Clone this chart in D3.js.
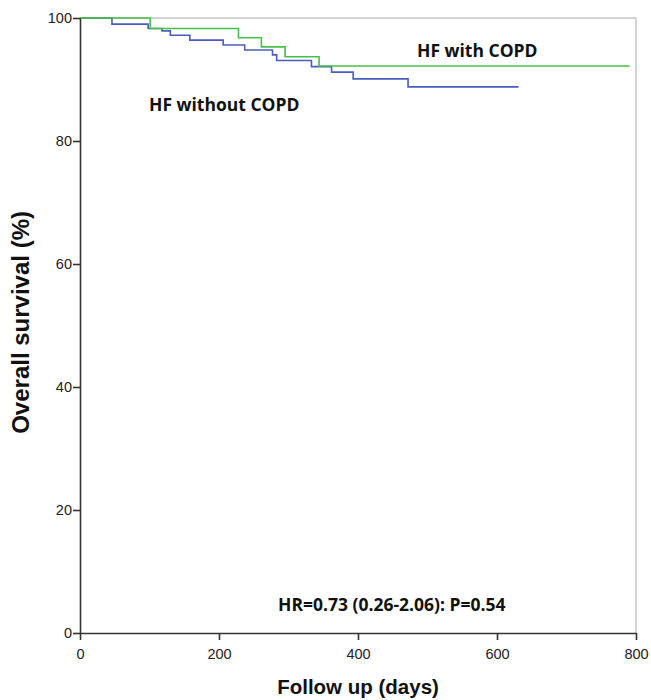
<!DOCTYPE html>
<html>
<head>
<meta charset="utf-8">
<script src="https://cdn.jsdelivr.net/npm/d3@7"></script>
<style>
  body { margin: 0; background: #fff; }
  .tick text { font-family: "Liberation Sans Narrow", "Liberation Sans", Arial, sans-serif; font-size: 14.5px; fill: #222; }
  .lbl { font-family: "Liberation Sans", Arial, sans-serif; font-weight: bold; fill: #111; }
  .ann { font-family: "Open Sans", Lato, sans-serif; font-weight: bold; font-size: 17.5px; fill: #111; }
</style>
</head>
<body>
<div id="chart"></div>
<script>
// step data: [day, survival %]
var withCopd = [[0, 100], [101, 98.3], [228, 96.8], [261, 95.3], [295, 93.7], [344, 92.2]];
var withCopdEnd = 791;
var withoutCopd = [[0, 100], [46, 99.0], [98, 98.3], [118, 97.9], [130, 97.2], [158, 96.4],
  [206, 95.6], [237, 94.8], [277, 94.0], [283, 93.1], [333, 92.1], [362, 91.2],
  [393, 90.1], [472, 88.8]];
var withoutCopdEnd = 631;
var xTicks = [0, 200, 400, 600, 800];
var yTicks = [0, 20, 40, 60, 80, 100];

var margin = {top: 18, right: 15, bottom: 67, left: 80},
    width = 651 - margin.left - margin.right,
    height = 700 - margin.top - margin.bottom;

var svg = d3.select("#chart")
  .append("svg")
    .attr("width", 651)
    .attr("height", 700)
  .append("g")
    .attr("transform", "translate(" + margin.left + "," + margin.top + ")");

var x = d3.scaleLinear().domain([0, 800]).range([0, width]);
var y = d3.scaleLinear().domain([0, 100]).range([height, 0]);

// light frame on top and right
svg.append("line")
  .attr("x1", 0).attr("x2", x(800)).attr("y1", y(100)).attr("y2", y(100))
  .attr("stroke", "#c4c4c4").attr("stroke-width", 1.5);
svg.append("line")
  .attr("x1", x(800)).attr("x2", x(800)).attr("y1", y(100)).attr("y2", y(0))
  .attr("stroke", "#c4c4c4").attr("stroke-width", 1.5);

var line = d3.line()
  .x(function(d) { return x(d[0]); })
  .y(function(d) { return y(d[1]); })
  .curve(d3.curveStepAfter);

function withEnd(pts, end) {
  return pts.concat([[end, pts[pts.length - 1][1]]]);
}

svg.append("path")
  .datum(withEnd(withoutCopd, withoutCopdEnd))
  .attr("fill", "none")
  .attr("stroke", "#4a5dc0")
  .attr("stroke-width", 1.6)
  .attr("d", line);

svg.append("path")
  .datum(withEnd(withCopd, withCopdEnd))
  .attr("fill", "none")
  .attr("stroke", "#45c245")
  .attr("stroke-width", 1.6)
  .attr("d", line);

// axes
var xAxis = svg.append("g")
  .attr("transform", "translate(0," + height + ")")
  .call(d3.axisBottom(x).tickValues(xTicks).tickSize(7).tickSizeOuter(0));
var yAxis = svg.append("g")
  .call(d3.axisLeft(y).tickValues(yTicks).tickSize(7).tickSizeOuter(0));

[xAxis, yAxis].forEach(function(a) {
  a.select(".domain").attr("stroke", "#333").attr("stroke-width", 1.6);
  a.selectAll(".tick line").attr("stroke", "#333").attr("stroke-width", 1.6);
});
xAxis.selectAll(".tick text").attr("dy", "1.1em");
yAxis.selectAll(".tick text").attr("x", -8);

// axis titles
svg.append("text")
  .attr("class", "lbl")
  .attr("x", width / 2)
  .attr("y", height + 61)
  .attr("text-anchor", "middle")
  .style("font-size", "20.5px")
  .text("Follow up (days)");

svg.append("text")
  .attr("class", "lbl")
  .attr("transform", "translate(" + (-51) + "," + (y(50.5)) + ") rotate(-90)")
  .attr("text-anchor", "middle")
  .style("font-size", "24px")
  .text("Overall survival (%)");

// annotations
svg.append("text").attr("class", "ann")
  .attr("x", 337).attr("y", 39).text("HF with COPD");
svg.append("text").attr("class", "ann")
  .attr("x", 69).attr("y", 93).text("HF without COPD");
svg.append("text").attr("class", "ann")
  .attr("x", 198).attr("y", 593).text("HR=0.73 (0.26-2.06): P=0.54");
</script>
</body>
</html>
